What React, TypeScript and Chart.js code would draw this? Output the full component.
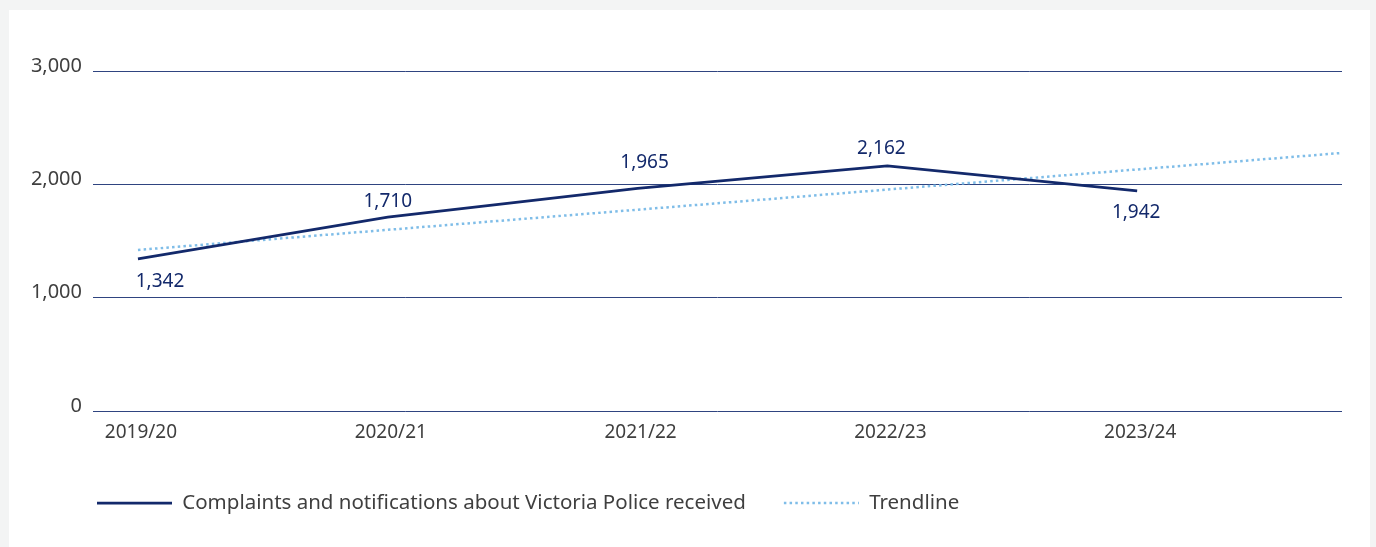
import React, { useEffect, useRef } from 'react';
import { Chart, registerables } from 'chart.js';

Chart.register(...registerables);

const categories = ['2019/20', '2020/21', '2021/22', '2022/23', '2023/24'];
const complaints = [1342, 1710, 1965, 2162, 1942];
const trendStartValue = 1421;
const trendEndValue = 2277;
const trendForecastPeriods = 0.82;
const yTicks = [0, 1000, 2000, 3000];
const seriesLabel = 'Complaints and notifications about Victoria Police received';
const trendLabel = 'Trendline';

// label placement (dx, dy) in pixels relative to each point
const labelOffsets: [number, number][] = [
  [22, 22.5],
  [0, -15.5],
  [7, -25.5],
  [-6, -17.5],
  [-1, 21.5],
];

const NAVY = '#13296b';
const TREND = '#7fbde8';
const GRID = '#2f4480';
const TEXT = '#3f3f3f';
const FONT = "'Noto Sans', sans-serif";
const LEGEND_LEFT = 50;

const dataLabelPlugin = {
  id: 'dataLabels',
  afterLayout(chart: any) {
    if (chart.legend) {
      chart.legend.left = LEGEND_LEFT;
    }
  },
  afterDatasetsDraw(chart: any) {
    const meta = chart.getDatasetMeta(0);
    const ctx = chart.ctx;
    ctx.save();
    ctx.font = `19px ${FONT}`;
    ctx.fillStyle = NAVY;
    ctx.textAlign = 'center';
    ctx.textBaseline = 'middle';
    meta.data.forEach((el: any, i: number) => {
      const [dx, dy] = labelOffsets[i];
      ctx.fillText(complaints[i].toLocaleString('en-US'), el.x + dx, el.y + dy);
    });
    ctx.restore();
  },
};

export default function App() {
  const ref = useRef<HTMLCanvasElement>(null);

  useEffect(() => {
    if (!ref.current) return;
    Chart.defaults.font.family = FONT;
    const lastIndex = categories.length - 1;
    const chart = new Chart(ref.current, {
      type: 'line',
      data: {
        datasets: [
          {
            label: seriesLabel,
            data: categories.map((_, i) => ({ x: i, y: complaints[i] })),
            borderColor: NAVY,
            backgroundColor: NAVY,
            borderWidth: 2.75,
            pointRadius: 0,
            tension: 0,
          },
          {
            label: trendLabel,
            data: [
              { x: 0, y: trendStartValue },
              { x: lastIndex + trendForecastPeriods, y: trendEndValue },
            ],
            borderColor: TREND,
            backgroundColor: TREND,
            borderWidth: 2.5,
            borderDash: [2.5, 3.2],
            pointRadius: 0,
          },
        ],
      },
      options: {
        animation: false,
        responsive: true,
        maintainAspectRatio: false,
        layout: { padding: { left: 0, right: 28, top: 61, bottom: 23.75 } },
        plugins: {
          tooltip: { enabled: false },
          legend: {
            position: 'bottom',
            align: 'start',
            labels: {
              usePointStyle: true,
              pointStyle: 'line',
              pointStyleWidth: 75,
              boxWidth: 75,
              padding: 38,
              color: TEXT,
              font: { size: 20.5, family: FONT },
              generateLabels: (c: any) =>
                c.data.datasets.map((ds: any, i: number) => ({
                  text: ds.label,
                  fillStyle: ds.borderColor,
                  strokeStyle: ds.borderColor,
                  lineWidth: ds.borderWidth,
                  lineDash: ds.borderDash || [],
                  lineCap: 'butt',
                  pointStyle: 'line',
                  fontColor: TEXT,
                  hidden: false,
                  datasetIndex: i,
                })),
            },
          },
        },
        scales: {
          x: {
            type: 'linear',
            min: -0.18,
            max: lastIndex + trendForecastPeriods,
            afterBuildTicks: (scale: any) => {
              scale.ticks = categories.map((_, i) => ({ value: i }));
            },
            afterFit: (scale: any) => {
              scale.height = 43.75;
            },
            grid: { display: false, drawTicks: false },
            border: { display: false },
            ticks: {
              autoSkip: false,
              maxRotation: 0,
              padding: 10,
              labelOffset: 3,
              color: TEXT,
              font: { size: 19, family: FONT },
              callback: (v: any) => categories[Math.round(Number(v))] ?? '',
            },
          },
          y: {
            min: yTicks[0],
            max: yTicks[yTicks.length - 1],
            afterBuildTicks: (scale: any) => {
              scale.ticks = yTicks.map((v) => ({ value: v }));
            },
            afterFit: (scale: any) => {
              scale.width = 84;
            },
            grid: { color: GRID, lineWidth: 1, drawTicks: false },
            border: { display: false },
            ticks: {
              padding: 11,
              labelOffset: -5,
              color: TEXT,
              font: { size: 20, family: FONT },
              callback: (v: any) => Number(v).toLocaleString('en-US'),
            },
          },
        },
      },
      plugins: [dataLabelPlugin],
    } as any);
    return () => chart.destroy();
  }, []);

  return (
    <div style={{ position: 'fixed', inset: 0, background: '#f3f4f4' }}>
      <div
        style={{
          position: 'absolute',
          left: 9,
          top: 10,
          width: 1361,
          height: 537,
          background: '#ffffff',
        }}
      >
        <canvas ref={ref} />
      </div>
    </div>
  );
}
